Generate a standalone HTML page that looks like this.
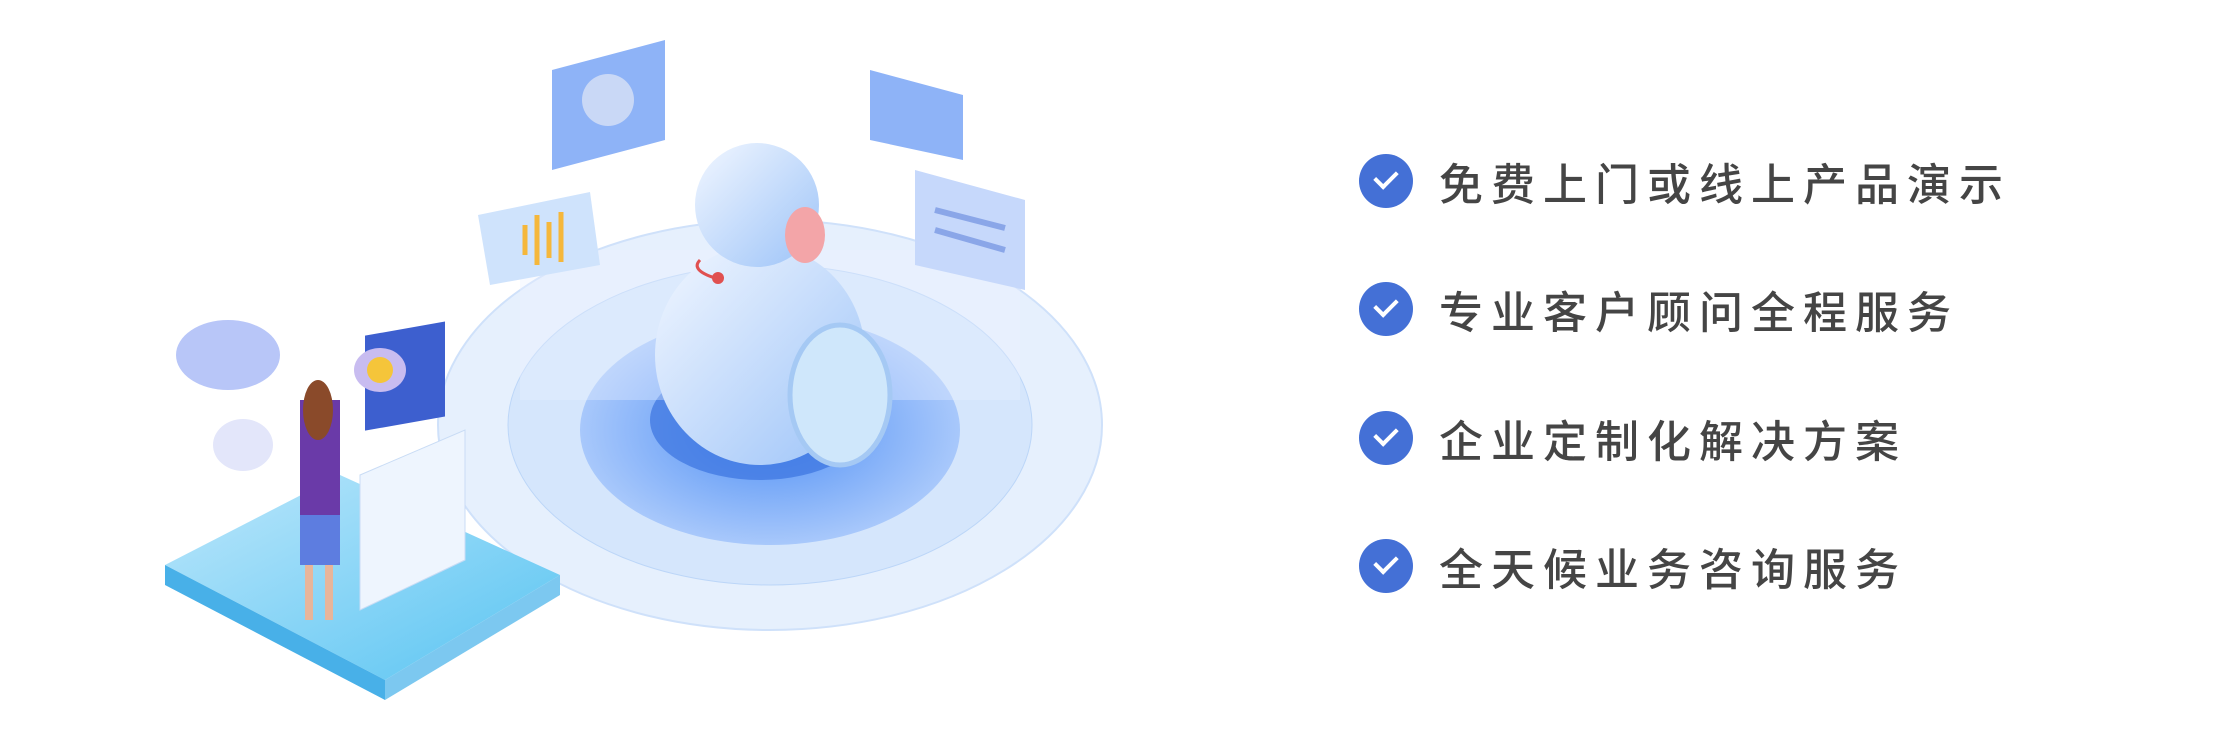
<!DOCTYPE html>
<html><head><meta charset="utf-8"><style>
html,body{margin:0;padding:0;background:#fff;}
body{width:2230px;height:732px;position:relative;overflow:hidden;font-family:"Liberation Sans","Noto Sans CJK SC",sans-serif;}
.row{position:absolute;left:1359px;height:56px;display:flex;align-items:center;}
.c{width:54px;height:54px;border-radius:50%;background:#4470d6;position:relative;flex:none;}
.c:after{content:"";position:absolute;left:16px;width:18px;height:10px;border-left:4px solid #fff;border-bottom:4px solid #fff;transform:rotate(-45deg);transform-origin:center;top:16px;}
.t{margin-left:26px;font-size:44px;font-weight:500;letter-spacing:8px;color:#454545;white-space:nowrap;}
</style></head><body>
<svg width="1200" height="732" style="position:absolute;left:0;top:0">
<defs>
<radialGradient id="g1" cx="50%" cy="50%" r="50%"><stop offset="0" stop-color="#4f8ff5"/><stop offset="1" stop-color="#a8c8fb"/></radialGradient>
<linearGradient id="pl" x1="0" y1="0" x2="1" y2="1"><stop offset="0" stop-color="#bde7fb"/><stop offset="1" stop-color="#58c4f2"/></linearGradient>
<linearGradient id="rb" x1="0" y1="0" x2="1" y2="1"><stop offset="0" stop-color="#f2f7ff"/><stop offset="1" stop-color="#9cc3f8"/></linearGradient>
</defs>
<ellipse cx="770" cy="425" rx="332" ry="205" fill="#e6f0fd" stroke="#cfe1fa" stroke-width="2"/>
<ellipse cx="770" cy="425" rx="262" ry="160" fill="#d5e6fc" stroke="#bcd6f8"/>
<ellipse cx="770" cy="430" rx="190" ry="115" fill="url(#g1)"/>
<ellipse cx="760" cy="420" rx="110" ry="60" fill="#3b73e0" opacity=".7"/>
<rect x="520" y="250" width="500" height="150" fill="#eaf2fe" opacity=".35"/>
<ellipse cx="760" cy="355" rx="105" ry="110" fill="url(#rb)"/>
<ellipse cx="840" cy="395" rx="50" ry="70" fill="#cfe7fb" stroke="#a5c9f4" stroke-width="5"/>
<ellipse cx="757" cy="205" rx="62" ry="62" fill="url(#rb)"/>
<ellipse cx="805" cy="235" rx="20" ry="28" fill="#f3a5a8"/>
<path d="M700 260 Q690 270 715 278" stroke="#e05050" stroke-width="3" fill="none"/>
<circle cx="718" cy="278" r="6" fill="#e05050"/>
<polygon points="552,70 665,40 665,140 552,170" fill="#8eb3f7"/>
<circle cx="608" cy="100" r="26" fill="#c9d8f6"/>
<polygon points="478,215 590,192 600,265 490,285" fill="#cfe3fc"/>
<g stroke="#f5b73b" stroke-width="5"><line x1="525" y1="225" x2="525" y2="255"/><line x1="537" y1="215" x2="537" y2="265"/><line x1="549" y1="222" x2="549" y2="258"/><line x1="561" y1="212" x2="561" y2="262"/></g>
<polygon points="870,70 963,95 963,160 870,140" fill="#8eb3f7"/>
<polygon points="915,170 1025,200 1025,290 915,265" fill="#c6d8fb"/>
<line x1="935" y1="210" x2="1005" y2="228" stroke="#8aa6e8" stroke-width="6"/>
<line x1="935" y1="230" x2="1005" y2="250" stroke="#8aa6e8" stroke-width="6"/>
<polygon points="165,565 340,475 560,575 385,680" fill="url(#pl)"/>
<polygon points="165,565 385,680 385,700 165,585" fill="#48b0e8"/>
<polygon points="385,680 560,575 560,595 385,700" fill="#7cc8f0"/>
<polygon points="360,475 465,430 465,560 360,610" fill="#eef5fe" stroke="#c9dcf5"/>
<rect x="365" y="400" width="80" height="95" fill="#3d5fcf" transform="skewY(-10)" />
<rect x="300" y="400" width="40" height="120" fill="#6a3aa8"/>
<rect x="300" y="515" width="40" height="50" fill="#5d7de0"/>
<rect x="305" y="565" width="8" height="55" fill="#e8b59a"/><rect x="325" y="565" width="8" height="55" fill="#e8b59a"/>
<ellipse cx="318" cy="410" rx="15" ry="30" fill="#8a4a2a"/>
<ellipse cx="228" cy="355" rx="52" ry="35" fill="#b8c6f8"/>
<ellipse cx="243" cy="445" rx="30" ry="26" fill="#e3e6fa"/>
<ellipse cx="380" cy="370" rx="26" ry="22" fill="#c8bcf0"/>
<circle cx="380" cy="370" r="13" fill="#f5c53a"/>
</svg>
<div class="row" style="top:153px"><div class="c"></div><div class="t">免费上门或线上产品演示</div></div>
<div class="row" style="top:281px"><div class="c"></div><div class="t">专业客户顾问全程服务</div></div>
<div class="row" style="top:410px"><div class="c"></div><div class="t">企业定制化解决方案</div></div>
<div class="row" style="top:538px"><div class="c"></div><div class="t">全天候业务咨询服务</div></div>
</body></html>
